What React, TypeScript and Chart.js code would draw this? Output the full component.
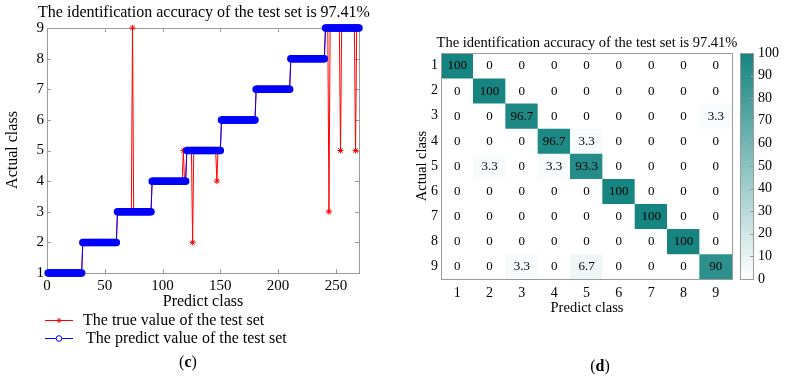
import React, { useEffect, useRef } from "react";
import { Chart, registerables } from "chart.js";

Chart.register(...registerables);

const FONT = "'Liberation Serif', 'DejaVu Serif', serif";

// ---------- Panel (c) data ----------
const titleC = "The identification accuracy of the test set is 97.41%";
const xTitleC = "Predict class";
const yTitleC = "Actual class";
const legendTrue = "The true value of the test set";
const legendPredict = "The predict value of the test set";

const predictValues = [
  1,1,1,1,1,1,1,1,1,1, 1,1,1,1,1,1,1,1,1,1, 1,1,1,1,1,1,1,1,1,1,
  2,2,2,2,2,2,2,2,2,2, 2,2,2,2,2,2,2,2,2,2, 2,2,2,2,2,2,2,2,2,2,
  3,3,3,3,3,3,3,3,3,3, 3,3,3,3,3,3,3,3,3,3, 3,3,3,3,3,3,3,3,3,3,
  4,4,4,4,4,4,4,4,4,4, 4,4,4,4,4,4,4,4,4,4, 4,4,4,4,4,4,4,4,4,4,
  5,5,5,5,5,5,5,5,5,5, 5,5,5,5,5,5,5,5,5,5, 5,5,5,5,5,5,5,5,5,5,
  6,6,6,6,6,6,6,6,6,6, 6,6,6,6,6,6,6,6,6,6, 6,6,6,6,6,6,6,6,6,6,
  7,7,7,7,7,7,7,7,7,7, 7,7,7,7,7,7,7,7,7,7, 7,7,7,7,7,7,7,7,7,7,
  8,8,8,8,8,8,8,8,8,8, 8,8,8,8,8,8,8,8,8,8, 8,8,8,8,8,8,8,8,8,8,
  9,9,9,9,9,9,9,9,9,9, 9,9,9,9,9,9,9,9,9,9, 9,9,9,9,9,9,9,9,9,9,
];

const trueValues = [
  1,1,1,1,1,1,1,1,1,1, 1,1,1,1,1,1,1,1,1,1, 1,1,1,1,1,1,1,1,1,1,
  2,2,2,2,2,2,2,2,2,2, 2,2,2,2,2,2,2,2,2,2, 2,2,2,2,2,2,2,2,2,2,
  3,3,3,3,3,3,3,3,3,3, 3,3,3,9,3,3,3,3,3,3, 3,3,3,3,3,3,3,3,3,3,
  4,4,4,4,4,4,4,4,4,4, 4,4,4,4,4,4,4,4,4,4, 4,4,4,4,4,4,4,5,4,4,
  5,5,5,5,5,2,5,5,5,5, 5,5,5,5,5,5,5,5,5,5, 5,5,5,5,5,5,4,5,5,5,
  6,6,6,6,6,6,6,6,6,6, 6,6,6,6,6,6,6,6,6,6, 6,6,6,6,6,6,6,6,6,6,
  7,7,7,7,7,7,7,7,7,7, 7,7,7,7,7,7,7,7,7,7, 7,7,7,7,7,7,7,7,7,7,
  8,8,8,8,8,8,8,8,8,8, 8,8,8,8,8,8,8,8,8,8, 8,8,8,8,8,8,8,8,8,8,
  9,9,9,3,9,9,9,9,9,9, 9,9,9,5,9,9,9,9,9,9, 9,9,9,9,9,9,5,9,9,9,
];

const xTicksC = [0, 50, 100, 150, 200, 250];
const yTicksC = [1, 2, 3, 4, 5, 6, 7, 8, 9];

// ---------- Panel (d) data ----------
const titleD = "The identification accuracy of the test set is 97.41%";
const xTitleD = "Predict class";
const yTitleD = "Actual class";
const classLabels = ["1", "2", "3", "4", "5", "6", "7", "8", "9"];
const row1 = [100, 0, 0, 0, 0, 0, 0, 0, 0];
const row2 = [0, 100, 0, 0, 0, 0, 0, 0, 0];
const row3 = [0, 0, 96.7, 0, 0, 0, 0, 0, 3.3];
const row4 = [0, 0, 0, 96.7, 3.3, 0, 0, 0, 0];
const row5 = [0, 3.3, 0, 3.3, 93.3, 0, 0, 0, 0];
const row6 = [0, 0, 0, 0, 0, 100, 0, 0, 0];
const row7 = [0, 0, 0, 0, 0, 0, 100, 0, 0];
const row8 = [0, 0, 0, 0, 0, 0, 0, 100, 0];
const row9 = [0, 0, 3.3, 0, 6.7, 0, 0, 0, 90];
const confusionRows = [row1, row2, row3, row4, row5, row6, row7, row8, row9];
const colorbarTicks = [0, 10, 20, 30, 40, 50, 60, 70, 80, 90, 100];

const TEAL = [22, 132, 128];
const FRAME = "#9a9a9a";

function cellColor(v: number) {
  const t = v / 100;
  const c = TEAL.map((k) => Math.round(255 + (k - 255) * t));
  return `rgb(${c[0]},${c[1]},${c[2]})`;
}

const framePluginC = {
  id: "frameC",
  beforeDatasetsDraw(chart: any) {
    const { ctx, chartArea: a, scales } = chart;
    ctx.save();
    ctx.strokeStyle = FRAME;
    ctx.lineWidth = 1;
    ctx.strokeRect(Math.round(a.left) + 0.5, Math.round(a.top) + 0.5, Math.round(a.right - a.left), Math.round(a.bottom - a.top));
    ctx.beginPath();
    xTicksC.forEach((v) => {
      const x = Math.round(scales.x.getPixelForValue(v)) + 0.5;
      ctx.moveTo(x, a.bottom); ctx.lineTo(x, a.bottom - 4);
      ctx.moveTo(x, a.top); ctx.lineTo(x, a.top + 4);
    });
    yTicksC.forEach((v) => {
      const y = Math.round(scales.y.getPixelForValue(v)) + 0.5;
      ctx.moveTo(a.left, y); ctx.lineTo(a.left + 4, y);
      ctx.moveTo(a.right, y); ctx.lineTo(a.right - 4, y);
    });
    ctx.stroke();
    ctx.restore();
  },
  afterDraw(chart: any) {
    const { ctx } = chart;
    ctx.save();
    ctx.fillStyle = "#000";
    ctx.textAlign = "center";
    ctx.textBaseline = "middle";
    ctx.font = `16px ${FONT}`;
    ctx.fillText(titleC, 204, 13);
    ctx.fillText(xTitleC, 203, 302);
    ctx.save();
    ctx.translate(12.5, 150);
    ctx.rotate(-Math.PI / 2);
    ctx.fillText(yTitleC, 0, 0);
    ctx.restore();
    // legend
    ctx.lineWidth = 1;
    ctx.strokeStyle = "#ff0000";
    ctx.beginPath(); ctx.moveTo(45, 320.5); ctx.lineTo(73, 320.5); ctx.stroke();
    ctx.beginPath();
    const r = 2.5;
    ctx.moveTo(59 - r, 320.5); ctx.lineTo(59 + r, 320.5);
    ctx.moveTo(59, 320.5 - r); ctx.lineTo(59, 320.5 + r);
    ctx.moveTo(59 - r * 0.7, 320.5 - r * 0.7); ctx.lineTo(59 + r * 0.7, 320.5 + r * 0.7);
    ctx.moveTo(59 - r * 0.7, 320.5 + r * 0.7); ctx.lineTo(59 + r * 0.7, 320.5 - r * 0.7);
    ctx.stroke();
    ctx.strokeStyle = "#0000ff";
    ctx.beginPath(); ctx.moveTo(45, 338.5); ctx.lineTo(73, 338.5); ctx.stroke();
    ctx.fillStyle = "#fff";
    ctx.beginPath(); ctx.arc(59, 338.5, 2.8, 0, Math.PI * 2); ctx.fill(); ctx.stroke();
    ctx.fillStyle = "#000";
    ctx.textAlign = "left";
    ctx.fillText(legendTrue, 83, 321);
    ctx.fillText(legendPredict, 86, 339);
    ctx.restore();
  },
};

const heatPluginD = {
  id: "heatD",
  beforeDatasetsDraw(chart: any) {
    const { ctx, chartArea: a, scales } = chart;
    const cb = scales.cb;
    const x0 = a.right + 8;
    const w = 13;
    const yTop = cb.getPixelForValue(100);
    const yBot = cb.getPixelForValue(0);
    ctx.save();
    const g = ctx.createLinearGradient(0, yBot, 0, yTop);
    g.addColorStop(0, cellColor(0));
    g.addColorStop(1, cellColor(100));
    ctx.fillStyle = g;
    ctx.fillRect(x0, yTop, w, yBot - yTop);
    ctx.strokeStyle = FRAME;
    ctx.lineWidth = 1;
    ctx.strokeRect(Math.round(x0) + 0.5, Math.round(yTop) + 0.5, w, Math.round(yBot - yTop));
    ctx.beginPath();
    colorbarTicks.forEach((v) => {
      const y = Math.round(cb.getPixelForValue(v)) + 0.5;
      ctx.moveTo(x0 + w, y); ctx.lineTo(x0 + w - 3, y);
    });
    ctx.stroke();
    ctx.restore();
  },
  afterDatasetsDraw(chart: any) {
    const { ctx, chartArea: a, scales } = chart;
    ctx.save();
    ctx.strokeStyle = FRAME;
    ctx.lineWidth = 1;
    ctx.strokeRect(Math.round(a.left) + 0.5, Math.round(a.top) + 0.5, Math.round(a.right - a.left), Math.round(a.bottom - a.top));
    ctx.fillStyle = "#000";
    ctx.textAlign = "center";
    ctx.textBaseline = "middle";
    ctx.font = `13px ${FONT}`;
    confusionRows.forEach((row, r) => {
      row.forEach((v, c) => {
        ctx.fillText(String(v), scales.x.getPixelForValue(c), scales.y.getPixelForValue(r + 1) + 0.5);
      });
    });
    ctx.restore();
  },
  afterDraw(chart: any) {
    const { ctx } = chart;
    ctx.save();
    ctx.fillStyle = "#000";
    ctx.textAlign = "center";
    ctx.textBaseline = "middle";
    ctx.font = `14.5px ${FONT}`;
    ctx.fillText(titleD, 187, 43);
    ctx.fillText(xTitleD, 187, 308);
    ctx.save();
    ctx.translate(22.5, 166);
    ctx.rotate(-Math.PI / 2);
    ctx.fillText(yTitleD, 0, 0);
    ctx.restore();
    ctx.restore();
  },
};

export default function App() {
  const leftRef = useRef<HTMLCanvasElement>(null);
  const rightRef = useRef<HTMLCanvasElement>(null);

  useEffect(() => {
    const tickFontC = { family: FONT, size: 15 };
    const left = new Chart(leftRef.current as HTMLCanvasElement, {
      type: "line",
      data: {
        datasets: [
          {
            label: legendPredict,
            data: predictValues.map((v, i) => ({ x: i + 1, y: v })),
            borderColor: "#0000ff",
            backgroundColor: "#0000ff",
            borderWidth: 1,
            pointRadius: 3,
            pointBorderWidth: 1.5,
            pointStyle: "circle",
            order: 0,
            clip: false,
          } as any,
          {
            label: legendTrue,
            data: trueValues.map((v, i) => ({ x: i + 1, y: v })),
            borderColor: "#ff0000",
            backgroundColor: "#ff0000",
            borderWidth: 1,
            pointRadius: 3,
            pointBorderWidth: 1,
            pointStyle: "star",
            order: 1,
            clip: false,
          } as any,
        ],
      },
      options: {
        animation: false,
        responsive: false,
        maintainAspectRatio: false,
        layout: { padding: { left: 0, top: 28, right: 41, bottom: 0 } },
        plugins: { legend: { display: false }, tooltip: { enabled: false } },
        scales: {
          x: {
            type: "linear",
            min: 0,
            max: 270,
            afterBuildTicks: (s: any) => { s.ticks = xTicksC.map((v) => ({ value: v })); },
            afterFit: (s: any) => { s.height = 106; },
            grid: { display: false, drawTicks: false },
            border: { display: false },
            ticks: { font: tickFontC, color: "#000", padding: 4, maxRotation: 0, autoSkip: false },
          },
          y: {
            type: "linear",
            min: 1,
            max: 9,
            afterBuildTicks: (s: any) => { s.ticks = yTicksC.map((v) => ({ value: v })); },
            afterFit: (s: any) => { s.width = 47; },
            grid: { display: false, drawTicks: false },
            border: { display: false },
            ticks: { font: tickFontC, color: "#000", padding: 3, autoSkip: false },
          },
        },
      } as any,
      plugins: [framePluginC],
    });

    const tickFontD = { family: FONT, size: 14 };
    const right = new Chart(rightRef.current as HTMLCanvasElement, {
      type: "bar",
      data: {
        labels: classLabels,
        datasets: confusionRows.map((row, r) => ({
          label: classLabels[r],
          data: row.map(() => [r + 0.5, r + 1.5]),
          backgroundColor: row.map((v) => cellColor(v)),
          borderWidth: 0,
          barPercentage: 1,
          categoryPercentage: 1,
          grouped: false,
          xAxisID: "x",
          yAxisID: "y",
        })) as any,
      },
      options: {
        animation: false,
        responsive: false,
        maintainAspectRatio: false,
        layout: { padding: { left: 0, top: 53, right: 0, bottom: 0 } },
        plugins: { legend: { display: false }, tooltip: { enabled: false } },
        scales: {
          x: {
            type: "category",
            offset: true,
            afterFit: (s: any) => { s.height = 100; },
            grid: { display: false, drawTicks: false },
            border: { display: false },
            ticks: { font: tickFontD, color: "#000", padding: 6, maxRotation: 0, autoSkip: false },
          },
          y: {
            type: "linear",
            min: 0.5,
            max: 9.5,
            reverse: true,
            afterBuildTicks: (s: any) => { s.ticks = classLabels.map((_, i) => ({ value: i + 1 })); },
            afterFit: (s: any) => { s.width = 41; },
            grid: { display: false, drawTicks: false },
            border: { display: false },
            ticks: { font: tickFontD, color: "#000", padding: 3, autoSkip: false },
          },
          cb: {
            type: "linear",
            axis: "y",
            position: "right",
            min: 0,
            max: 100,
            afterBuildTicks: (s: any) => { s.ticks = colorbarTicks.map((v) => ({ value: v })); },
            afterFit: (s: any) => { s.width = 54; },
            grid: { display: false, drawTicks: false },
            border: { display: false },
            ticks: { font: tickFontD, color: "#000", padding: 26, autoSkip: false },
          },
        },
      } as any,
      plugins: [heatPluginD],
    });

    return () => {
      left.destroy();
      right.destroy();
    };
  }, []);

  return (
    <div style={{ position: "absolute", left: 0, top: 0, width: 786, height: 379, background: "#fff", overflow: "hidden" }}>
      <canvas ref={leftRef} width={400} height={379} style={{ position: "absolute", left: 0, top: 0, width: 400, height: 379 }} />
      <canvas ref={rightRef} width={386} height={379} style={{ position: "absolute", left: 400, top: 0, width: 386, height: 379 }} />
      <div style={{ position: "absolute", left: 176, top: 352, width: 24, textAlign: "center", font: `16px ${FONT}`, lineHeight: "20px", color: "#000" }}>
        (<b>c</b>)
      </div>
      <div style={{ position: "absolute", left: 588, top: 356, width: 24, textAlign: "center", font: `16px ${FONT}`, lineHeight: "20px", color: "#000" }}>
        (<b>d</b>)
      </div>
    </div>
  );
}
